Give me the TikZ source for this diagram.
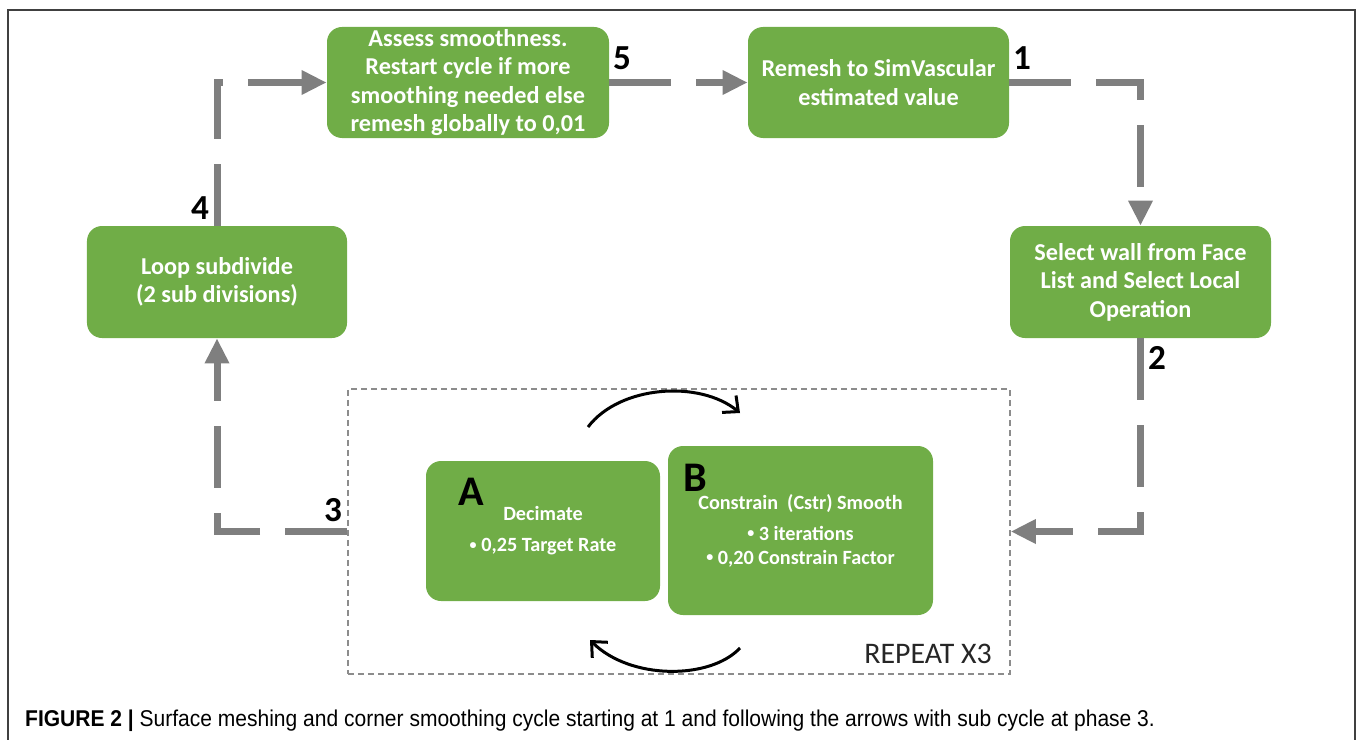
\documentclass[tikz,border=0pt]{standalone}
\usepackage{fontspec}
\setmainfont{Carlito}
\newfontfamily\capfont[FakeStretch=0.92]{Liberation Sans}
\usetikzlibrary{arrows.meta}
\definecolor{boxgreen}{HTML}{70AD47}
\definecolor{flowgray}{HTML}{7F7F7F}
\newcommand{\smallbul}{\raisebox{0.25ex}{\fontsize{8}{8}\selectfont\textbullet}}

\begin{document}
\begin{tikzpicture}[x=0.2mm,y=-0.2mm,
  greenbox/.style={fill=boxgreen,rounded corners=3mm,text=white,align=center,
    font=\fontsize{13.8}{16.2}\selectfont\bfseries,inner sep=0pt},
  subbox/.style={greenbox,font=\fontsize{11.5}{13.7}\selectfont\bfseries},
  flow/.style={draw=flowgray,line width=1.4mm,dash pattern=on 12.4mm off 5mm,
    -{Triangle[length=5mm,width=4.6mm]}},
  cyc/.style={line width=0.6mm,-{Straight Barb[length=2.4mm,width=4.4mm]}},
  num/.style={font=\fontsize{20}{20}\selectfont\bfseries},
  letter/.style={font=\fontsize{24}{24}\selectfont\bfseries}]
  \useasboundingbox (0,0) rectangle (1357,740);
  \draw[line width=0.4mm,draw=black!75] (8,740) -- (8,10) -- (1355,10) -- (1355,740);
  % main cycle
  \node[greenbox,minimum width=56.4mm,minimum height=22.2mm] (assess) at (468,82.5)
    {Assess smoothness.\\Restart cycle if more\\smoothing needed else\\remesh globally to 0,01};
  \node[greenbox,minimum width=52.2mm,minimum height=22.2mm] (remesh) at (878.5,82.5)
    {Remesh to SimVascular\\estimated value};
  \node[greenbox,minimum width=52.2mm,minimum height=22.4mm] (select) at (1140.5,282)
    {Select wall from Face\\List and Select Local\\Operation};
  \node[greenbox,minimum width=52mm,minimum height=22.4mm] (loop) at (217,282)
    {Loop subdivide\\(2 sub divisions)};
  % sub cycle
  \node[draw=black!45,line width=0.3mm,dash pattern=on 1.2mm off 0.8mm,
    minimum width=132.4mm,minimum height=57mm,inner sep=0pt] (rep) at (679,531.5) {};
  \node[subbox,minimum width=46.8mm,minimum height=28mm] (decim) at (543,531)
    {Decimate\\[1.4mm]\smallbul\ 0,25 Target Rate};
  \node[subbox,minimum width=53mm,minimum height=33.8mm] (cstr) at (800.5,530.5)
    {Constrain\ \ (Cstr)\ Smooth\\[1.4mm]\smallbul\ 3 iterations\\\smallbul\ 0,20 Constrain Factor};
  \node[letter] (la) at (471,492) {A};
  \node[letter] (lb) at (695,478) {B};
  \node[anchor=east,font=\fontsize{17}{17}\selectfont,text=black!85] (rx) at (998,654) {REPEAT X3};
  \coordinate (ab0) at (588,427);
  \coordinate (ab1) at (740,413);
  \coordinate (ba0) at (740,648);
  \coordinate (ba1) at (590,640);
  \draw[cyc] (ab0) .. controls (620,385) and (700,380) .. (ab1);
  \draw[cyc] (ba0) .. controls (710,680) and (630,680) .. (ba1);
  % arrows
  \draw[flow] (assess.east) -- (remesh.west);
  \draw[flow] (remesh.east) -| (select.north);
  \draw[flow] (select.south) |- (rep.east);
  \draw[flow] (rep.west) -| (loop.south);
  \draw[flow] (loop.north) |- (assess.west);
  \node[num] (n1) at (1022,58) {1};
  \node[num] (n2) at (1157,358) {2};
  \node[num] (n3) at (333,510) {3};
  \node[num] (n4) at (200,208) {4};
  \node[num] (n5) at (622,58) {5};
  \node[anchor=west,font=\capfont\fontsize{13}{13}\selectfont] (cap) at (19,721)
    {\textbf{FIGURE 2 |} Surface meshing and corner smoothing cycle starting at 1 and following the arrows with sub cycle at phase 3.};
\end{tikzpicture}
\end{document}
